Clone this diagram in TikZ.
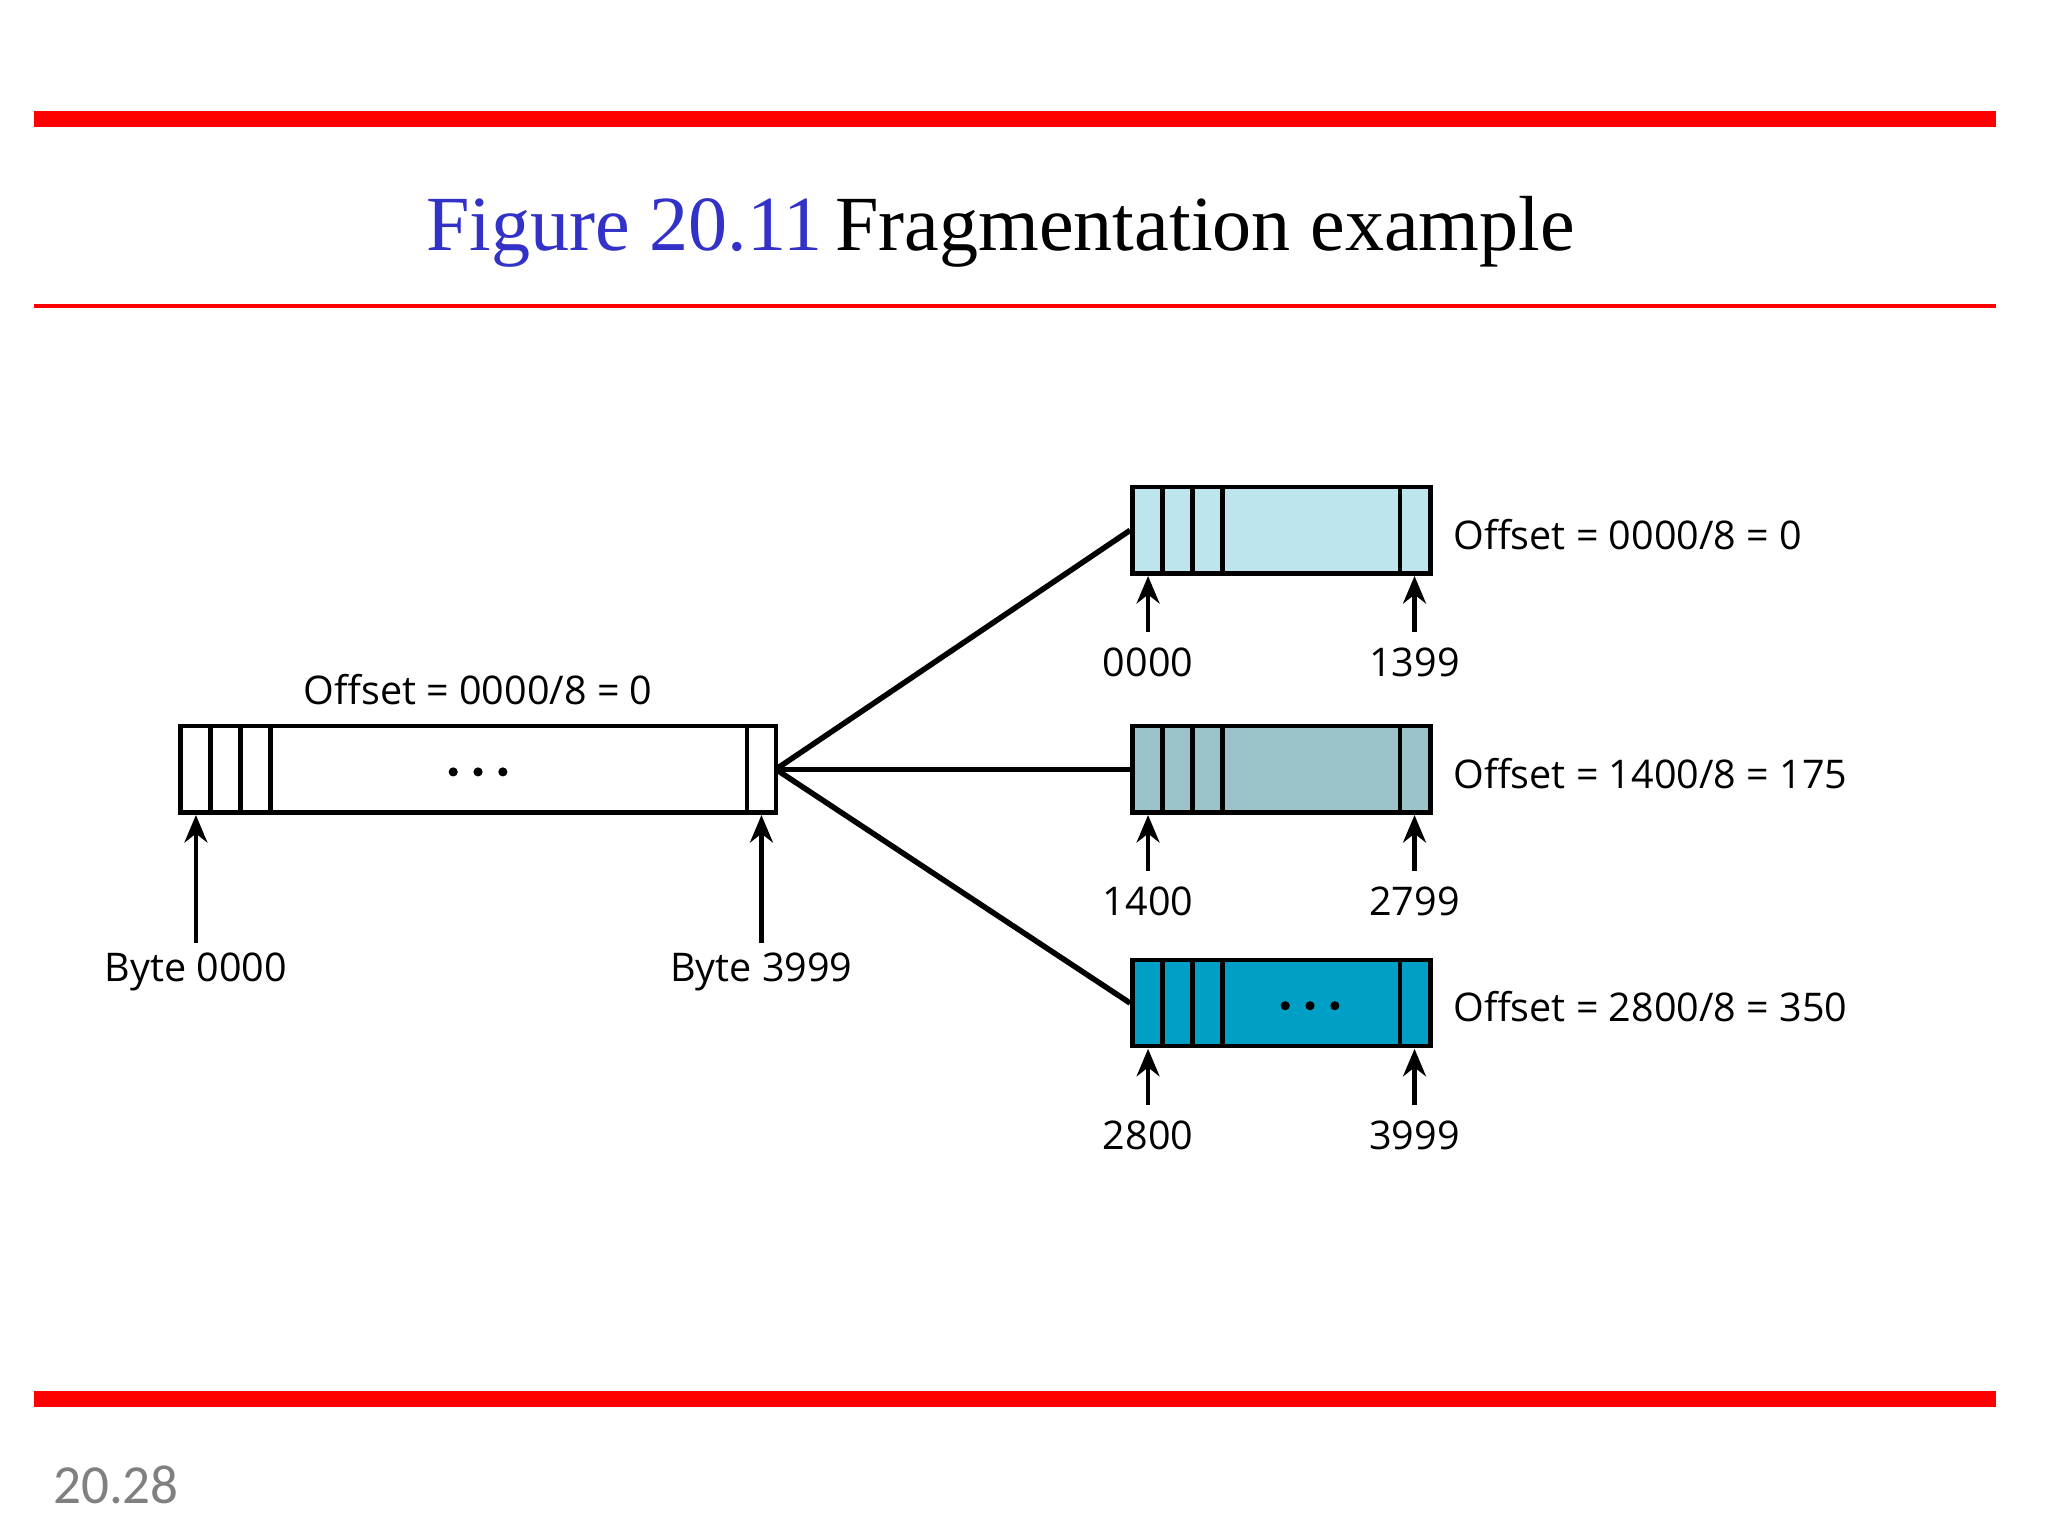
\documentclass[tikz,border=0pt]{standalone}
\usetikzlibrary{arrows.meta}
\usepackage{fontspec}
\setmainfont{Liberation Serif}
\newfontfamily\lab{Open Sans}
\newfontfamily\pg{Carlito}
\definecolor{fa}{HTML}{BEE5EE}
\definecolor{fb}{HTML}{9BC3C9}
\definecolor{fc}{HTML}{00A0C6}
\definecolor{tblue}{RGB}{50,50,200}
\begin{document}
\begin{tikzpicture}[x=0.01cm,y=-0.01cm,
  box/.style={draw,line width=1pt,minimum width=228*0.01cm,minimum height=66*0.01cm,inner sep=0},
  lbl/.style={font=\lab\fontsize{8.6}{10}\selectfont,inner sep=0},
  arr/.style={-{Stealth[length=6pt,width=5pt]},line width=0.9pt},
  conn/.style={line width=1.2pt},
  dot/.style={circle,fill=black,inner sep=0,minimum size=0.07cm}]
\useasboundingbox (0,0) rectangle (1568,1176);
\fill[red] (26,85) rectangle (1528,97);
\fill[red] (26,233) rectangle (1528,236);
\fill[red] (26,1065) rectangle (1528,1077);
\node[anchor=base,inner sep=0,font=\fontsize{17}{20}\selectfont] (title) at (766,192) {\textcolor{tblue}{Figure 20.11}\,Fragmentation example};
\node[anchor=west,inner sep=0,font=\pg\fontsize{12}{14}\selectfont,text=gray] (pnum) at (40,1137) {20.28};
% original
\node[draw,line width=1pt,minimum width=456*0.01cm,minimum height=66*0.01cm,inner sep=0] (orig) at (366,589) {};
\foreach \x in {161,184,207,572} \draw[line width=1pt] (\x,556) -- (\x,622);
\foreach \x in {347,366,385} \node[dot] (d0\x) at (\x,591) {};
\node[lbl] (o0) at (366,528) {Offset = 0000/8 = 0};
\coordinate (a1) at (150,722); \coordinate (a2) at (583,722);
\draw[arr] (a1) -- (150,624);
\draw[arr] (a2) -- (583,624);
\node[lbl] (b1) at (150,744) {Byte 0000};
\node[lbl] (b2) at (583,744) {Byte 3999};
% fragments
\foreach \n/\y/\c/\o/\s/\e in {f1/406/fa/{0000/8 = 0}/0000/1399, f2/589/fb/{1400/8 = 175}/1400/2799, f3/768/fc/{2800/8 = 350}/2800/3999}{
  \node[box,fill=\c] (\n) at (981,\y) {};
  \foreach \x in {890,913,936,1072} \draw[line width=1pt] (\x,\y-33) -- (\x,\y+33);
  \coordinate (\n s) at (879,\y+78); \coordinate (\n e) at (1083,\y+78);
  \draw[arr] (\n s) -- (879,\y+35);
  \draw[arr] (\n e) -- (1083,\y+35);
  \node[lbl] (\n l1) at (879,\y+101) {\s};
  \node[lbl] (\n l2) at (1083,\y+101) {\e};
  \node[lbl,anchor=west] (\n o) at (1112,\y+3) {Offset = \o};
}
\foreach \x in {984,1003,1022} \node[dot] (d3\x) at (\x,770) {};
\coordinate (src) at (594,589);
\draw[conn] (src) -- (f1.west);
\draw[conn] (src) -- (f2.west);
\draw[conn] (src) -- (f3.west);
\end{tikzpicture}
\end{document}
